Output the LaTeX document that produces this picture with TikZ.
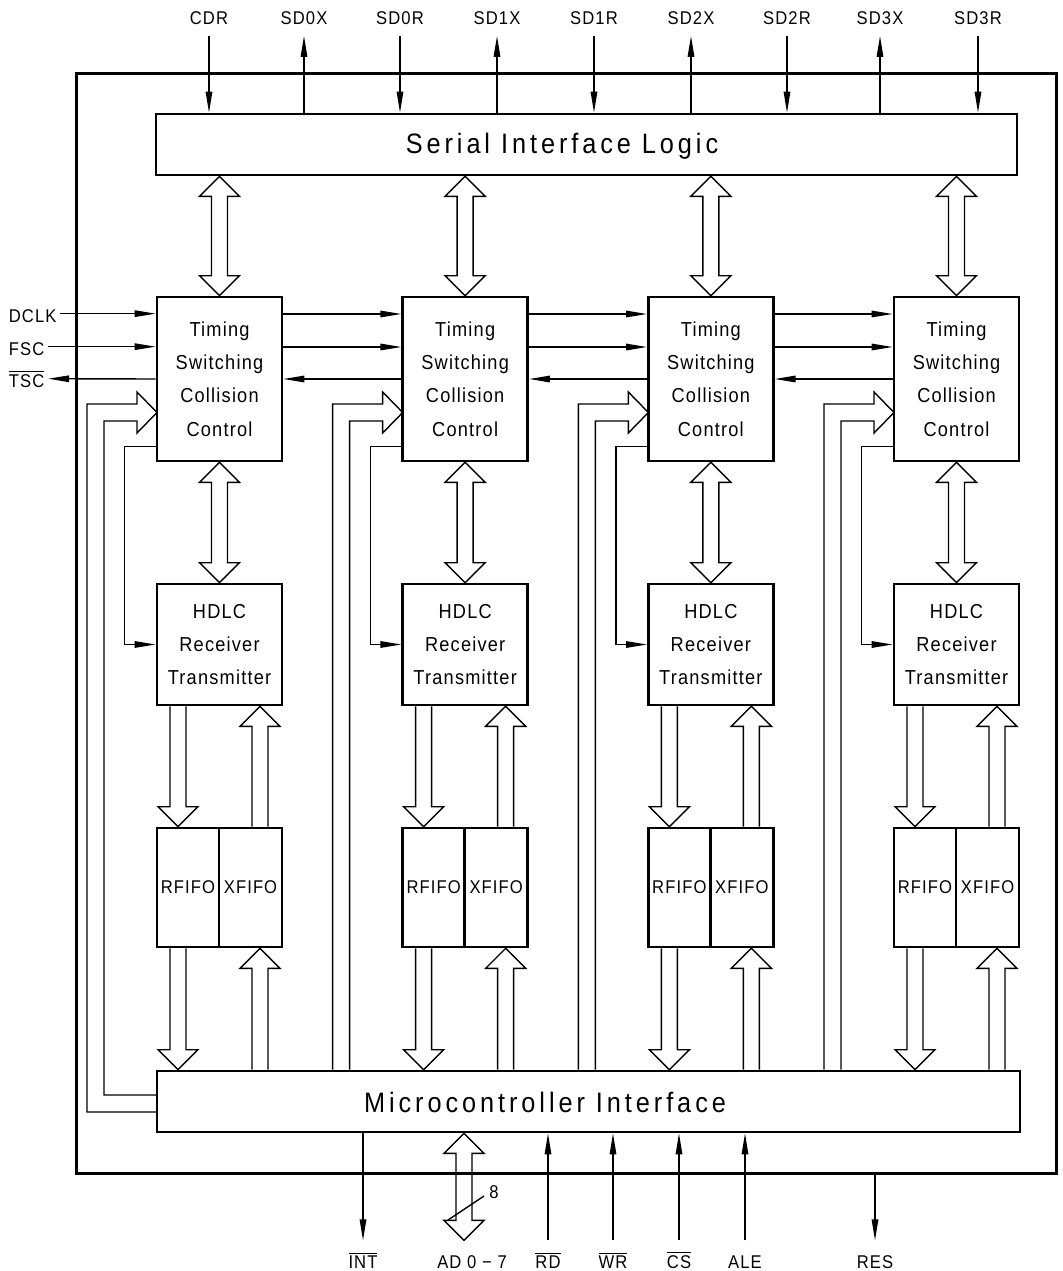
\documentclass[tikz,border=0pt]{standalone}
\usepackage{fontspec}
\setmainfont{Liberation Sans}[FakeStretch=0.9,LetterSpace=6]
\usetikzlibrary{arrows.meta,calc}

\newcommand{\ovl}[1]{$\overline{\mbox{#1}}$}
% hollow bus arrows: half head width, half shaft width, head length
\newcommand{\bushw}{0.4cm}
\newcommand{\busw}{0.16cm}
\newcommand{\busl}{0.4cm}
\newcommand{\busboth}[2]{%
  \draw[bus] let \p1=#1, \p2=#2 in
    (\x1,\y1) -- (\x1+\bushw,\y1-\busl) -- (\x1+\busw,\y1-\busl) -- (\x1+\busw,\y2+\busl)
    -- (\x1+\bushw,\y2+\busl) -- (\x1,\y2) -- (\x1-\bushw,\y2+\busl) -- (\x1-\busw,\y2+\busl)
    -- (\x1-\busw,\y1-\busl) -- (\x1-\bushw,\y1-\busl) -- cycle;}
\newcommand{\busdn}[2]{%
  \draw[bus] let \p1=#1, \p2=#2 in
    (\x1-\busw,\y1) -- (\x1-\busw,\y2+\busl) -- (\x1-\bushw,\y2+\busl) -- (\x1,\y2)
    -- (\x1+\bushw,\y2+\busl) -- (\x1+\busw,\y2+\busl) -- (\x1+\busw,\y1);}
\newcommand{\busup}[2]{%
  \draw[bus] let \p1=#1, \p2=#2 in
    (\x1-\busw,\y2) -- (\x1-\busw,\y1-\busl) -- (\x1-\bushw,\y1-\busl) -- (\x1,\y1)
    -- (\x1+\bushw,\y1-\busl) -- (\x1+\busw,\y1-\busl) -- (\x1+\busw,\y2);}

\begin{document}
\begin{tikzpicture}[x=0.02cm, y=-0.02cm, line join=miter,
    sig/.style={line width=0.8pt},
    sigar/.style={sig, -{Triangle[length=0.42cm,width=0.13cm]}},
    bus/.style={line width=0.8pt},
    blk/.style={draw, line width=1.5pt, minimum width=2.5cm, align=center, inner sep=0pt,
                font=\fontsize{11.5}{18.9}\selectfont},
    fifo/.style={draw, line width=1.5pt, minimum height=2.38cm, inner sep=0pt,
                 font=\fontsize{10.5}{12}\selectfont},
    longbox/.style={draw, line width=1.5pt, minimum height=1.22cm, inner sep=0pt},
    bigtxt/.style={font=\fontsize{16}{19}\selectfont\addfontfeatures{LetterSpace=14}},
    sigtxt/.style={font=\fontsize{10.5}{12}\selectfont, anchor=base, text height=9.5pt,
                   text depth=0pt, inner xsep=2pt, inner ysep=6pt}]
  \useasboundingbox (0,0) rectangle (1062,1271);
  % ---------------- chip outline ----------------
  \node[draw, line width=1.7pt, minimum width=19.62cm, minimum height=22.02cm, inner sep=0pt] (chip) at (566.5,623.5) {};
  % ---------------- serial side and microcontroller side ----------------
  \node[longbox, minimum width=17.22cm] (sil) at (586.5,144.5) {};
  \node[bigtxt] (siltxt) at (562,146) {Serial Interface Logic};
  \node[longbox, minimum width=17.26cm] (mi) at (588.5,1101.5) {};
  \node[bigtxt] (mitxt) at (545,1102) {Microcontroller Interface};
  % ---------------- four channels ----------------
  \foreach \i in {1,...,4} {
    \pgfmathsetmacro{\xl}{157+245.67*(\i-1)}
    \node[blk, minimum height=3.28cm] (tim\i) at (\xl+62.5,379) {Timing\\Switching\\Collision\\Control};
    \node[blk, minimum height=2.42cm] (hd\i) at (\xl+62.5,644.5) {HDLC\\Receiver\\Transmitter};
    \node[fifo, minimum width=1.24cm] (rf\i) at (\xl+31,887.5) {RFIFO};
    \node[fifo, minimum width=1.26cm] (xf\i) at (\xl+93.5,887.5) {XFIFO};
    \coordinate (rx\i) at (\xl+21,0);
    \coordinate (xx\i) at (\xl+103,0);
    \coordinate (bo\i) at (\xl-70,404);
    \coordinate (bi\i) at (\xl-53,421);
    \busboth{(sil.south -| tim\i.north)}{(tim\i.north)}
    \busboth{(tim\i.south)}{(hd\i.north)}
    \busdn{(hd\i.south -| rx\i)}{(rf\i.north -| rx\i)}
    \busup{(hd\i.south -| xx\i)}{(xf\i.north -| xx\i)}
    \busdn{(rf\i.south -| rx\i)}{(mi.north -| rx\i)}
    \busup{(xf\i.south -| xx\i)}{(mi.north -| xx\i)}
    % control line into the HDLC block
    \draw[sigar] ($(tim\i.south west)+(0,-16)$) -- ++(-31,0) |- (hd\i.west);
    % bus from the microcontroller interface
    \ifnum\i=1
      \draw[bus] ($(mi.west)+(0,10.5)$) -| (bo\i) -- ++(50,0) -- ++(0,-12) -- ++(20,20.5) -- ++(-20,20.5)
        -- ++(0,-12) -- ++(-33,0) |- ($(mi.west)+(0,-6.5)$);
    \else
      \draw[bus] (mi.north -| bo\i) -- (bo\i) -- ++(50,0) -- ++(0,-12) -- ++(20,20.5) -- ++(-20,20.5)
        -- ++(0,-12) -- ++(-33,0) -- (mi.north -| bi\i);
    \fi
  }
  % ---------------- clocks between the channels ----------------
  \foreach \i/\j in {1/2,2/3,3/4} {
    \draw[sigar] ($(tim\i.east)+(0,-65)$) -- ($(tim\j.west)+(0,-65)$);
    \draw[sigar] ($(tim\i.east)+(0,-32)$) -- ($(tim\j.west)+(0,-32)$);
    \draw[sigar] (tim\j.west) -- (tim\i.east);
  }
  \node[sigtxt, anchor=base west] (dclk) at (5,322) {DCLK};
  \node[sigtxt, anchor=base west] (fsc) at (5,355) {FSC};
  \node[sigtxt, anchor=base west] (tsc) at (5,387) {\ovl{TSC}};
  \draw[sigar] (dclk) -- (tim1.west |- dclk);
  \draw[sigar] (fsc) -- (tim1.west |- fsc);
  \draw[sigar] (tim1.west) -- (tsc);
  % ---------------- serial pins ----------------
  \foreach \px/\nm in {209/CDR,400/SD0R,594/SD1R,787/SD2R,978/SD3R} {
    \node[sigtxt] (p\nm) at (\px,25) {\nm};
    \draw[sigar] (p\nm) -- (sil.north -| p\nm);
  }
  \foreach \px/\nm in {304/SD0X,497/SD1X,691/SD2X,880/SD3X} {
    \node[sigtxt] (p\nm) at (\px,25) {\nm};
    \draw[sigar] (sil.north -| p\nm) -- (p\nm);
  }
  % ---------------- microcontroller pins ----------------
  \node[sigtxt] (bint) at (363,1268) {\ovl{INT}};
  \draw[sigar] (mi.south -| bint) -- (bint);
  \foreach \px/\nm/\tx in {548/rd/\ovl{RD},613/wr/\ovl{WR},679/cs/\ovl{CS},745/ale/ALE} {
    \node[sigtxt] (b\nm) at (\px,1268) {\tx};
    \draw[sigar] (b\nm) -- (mi.south -| b\nm);
  }
  \node[sigtxt] (bres) at (875,1268) {RES};
  \draw[sigar] (chip.south -| bres) -- (bres);
  \node[sigtxt] (bad) at (472,1268) {AD 0 − 7};
  \coordinate (adx) at (464,0);
  \busboth{(mi.south -| adx)}{(bad.north -| adx)}
  \draw[sig] (448,1220) -- (484,1196);
  \node[sigtxt] (bw) at (494,1198) {8};
\end{tikzpicture}
\end{document}
